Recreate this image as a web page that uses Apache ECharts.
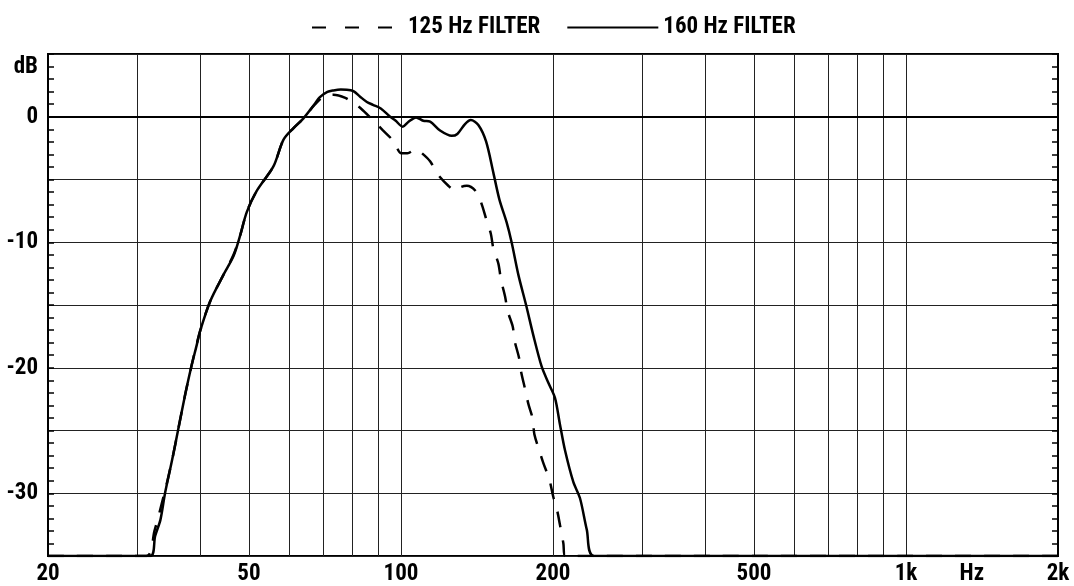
<!DOCTYPE html>
<html>
<head>
<meta charset="utf-8">
<title>Filter response</title>
<script src="https://cdn.jsdelivr.net/npm/echarts@6.0.0/dist/echarts.min.js"></script>
<style>
  html, body { margin: 0; padding: 0; background: #fff; }
  #chart { width: 1074px; height: 586px; }
</style>
</head>
<body>
<div id="chart"></div>
<script>
  // 125 Hz filter (dashed)
  var freq125 = [20, 31.3, 32.5, 34, 35.2, 36.3, 37.4, 38.4, 40, 41.9, 44.5, 46.6, 48, 49.5, 51.8, 55.9, 58.5, 61.2, 64.1,
    67.6, 70.2, 73.5, 77.6, 80.5, 83.3, 87.3, 91.9, 96.8, 100, 103, 107.1, 110, 114.2, 118.3, 124.1, 128.4, 131.4, 135,
    140.4, 144, 147.6, 150.6, 152.4, 155.9, 157.8, 160.7, 162.7, 166.4, 168, 171.3, 172.9, 176.1, 178.8, 182.4, 183.7,
    187.9, 191.4, 196.7, 200.3, 203.9, 206.4, 209.7, 211.3, 2000]
  var db125 = [-35, -35, -33, -30, -27.4, -24.7, -22.1, -20, -17.1, -14.7, -12.6, -11.0, -9.5, -7.6, -5.9, -3.95, -1.84, -0.92, -0.13,
    1.0, 1.6, 1.75, 1.5, 1.1, 0.66, -0.13, -1.05, -1.97, -2.9, -2.9, -2.6, -2.9, -3.55, -4.6, -5.5, -5.9, -5.6, -5.5,
    -5.9, -6.8, -8.2, -9.3, -10.5, -11.7, -13.0, -14.3, -15.5, -16.7, -17.9, -19.2, -20.3, -21.7, -22.9, -24.1, -25.3,
    -26.6, -27.6, -28.9, -30.3, -31.4, -32.5, -34, -35, -35]

  // 160 Hz filter (solid)
  var freq160 = [20, 31.9, 32.6, 33.4, 34.1, 35.2, 36.3, 37.4, 38.4, 39.4, 40, 41.9, 44.5, 46.6, 48, 49.5, 51.8, 55.9, 58.5,
    61.2, 64.1, 67.6, 69, 71.5, 73.5, 76, 78.1, 80.5, 83, 85.6, 88, 91.2, 95.2, 97.5, 100.8, 103.5, 107.1, 110.7, 114.2,
    119.5, 126, 129.3, 133.9, 137.5, 142.3, 147.4, 152.4, 156.6, 161.9, 165.6, 170.8, 176.9, 182.8, 189.9, 195.8, 201.8,
    206.4, 211.3, 219.4, 226.2, 233.3, 241.2, 2000]
  var db160 = [-35, -35, -33.4, -32.1, -30, -27.4, -24.7, -22.1, -20, -18.2, -17.1, -14.7, -12.6, -11.1, -9.5, -7.6, -5.9, -3.95, -1.84,
    -0.92, -0.13, 1.06, 1.55, 1.98, 2.1, 2.17, 2.16, 2.05, 1.6, 1.18, 0.95, 0.66, 0, -0.3, -0.79, -0.4, -0.05, -0.32, -0.39,
    -1.1, -1.52, -1.37, -0.58, -0.26, -0.66, -1.97, -4.47, -6.58, -8.42, -10, -12.6, -15, -17.4, -19.9, -21.2, -22.4,
    -24.5, -26.6, -29.1, -30.4, -32.9, -35, -35]

  var gridFreqs = [30, 40, 50, 60, 70, 80, 90, 100, 200, 300, 400, 500, 600, 700, 800, 900, 1000]
  var labelFreqs = [20, 50, 100, 200, 500, 1000, 1350, 2000]
  var labelTexts = ['20', '50', '100', '200', '500', '1k', 'Hz', '2k']

  var FONT = "'Liberation Sans Narrow', 'Arial Narrow', 'Roboto Condensed', 'DejaVu Sans Condensed', sans-serif"

  function pairs(xs, ys) {
    return xs.map(function (x, i) { return [x, ys[i]] })
  }

  var labelStyle = {
    color: '#000',
    fontFamily: FONT,
    fontWeight: 'bold',
    fontSize: 23
  }

  var chart = echarts.init(document.getElementById('chart'))
  chart.setOption({
    animation: false,
    backgroundColor: '#fff',
    grid: {
      left: 48,
      right: 16,
      top: 54,
      bottom: 27,
      show: true,
      borderColor: '#000',
      borderWidth: 2
    },
    legend: {
      left: 306,
      top: 11,
      itemWidth: 91,
      itemHeight: 14,
      itemGap: 26,
      itemStyle: {opacity: 0},
      textStyle: labelStyle,
      data: [
        {name: '125 Hz FILTER', lineStyle: {type: [14, 19]}},
        {name: '160 Hz FILTER'}
      ]
    },
    xAxis: {
      type: 'log',
      logBase: 10,
      min: 20,
      max: 2000,
      axisLine: {show: true, lineStyle: {color: '#000', width: 2}},
      axisTick: {show: false, customValues: gridFreqs},
      splitLine: {show: true, lineStyle: {color: '#222', width: 1}},
      axisLabel: Object.assign({
        customValues: labelFreqs,
        margin: 7,
        showMinLabel: true,
        showMaxLabel: true,
        formatter: function (v) {
          for (var i = 0; i < labelFreqs.length; i++) {
            if (Math.abs(labelFreqs[i] - v) / labelFreqs[i] < 0.01) return labelTexts[i]
          }
          return ''
        }
      }, labelStyle)
    },
    yAxis: [{
      type: 'value',
      position: 'left',
      min: -35,
      max: 5,
      interval: 5,
      name: 'dB',
      nameLocation: 'end',
      nameGap: -13,
      nameTextStyle: Object.assign({align: 'right', verticalAlign: 'middle', padding: [0, 10, 0, 0]}, labelStyle),
      axisLine: {show: true, lineStyle: {color: '#000', width: 2}},
      axisTick: {show: true, inside: true, length: 6, lineStyle: {color: '#000', width: 1.5}},
      minorTick: {show: true, splitNumber: 5, length: 6, lineStyle: {color: '#000', width: 1.5}},
      splitLine: {show: true, lineStyle: {color: '#222', width: 1}},
      axisLabel: Object.assign({
        margin: 10,
        formatter: function (v) { return v % 10 === 0 ? String(v) : '' }
      }, labelStyle)
    }, {
      type: 'value',
      position: 'right',
      min: -35,
      max: 5,
      interval: 5,
      axisLine: {show: true, lineStyle: {color: '#000', width: 2}},
      axisTick: {show: true, inside: true, length: 6, lineStyle: {color: '#000', width: 1.5}},
      minorTick: {show: true, splitNumber: 5, length: 6, lineStyle: {color: '#000', width: 1.5}},
      splitLine: {show: false},
      axisLabel: {show: false}
    }],
    series: [{
      name: '125 Hz FILTER',
      type: 'line',
      data: pairs(freq125, db125),
      symbol: 'none',
      showSymbol: false,
      smooth: 0.3,
      lineStyle: {color: '#000', width: 2.5, type: [16, 13]},
      itemStyle: {color: '#000'},
      z: 3
    }, {
      name: '160 Hz FILTER',
      type: 'line',
      data: pairs(freq160, db160),
      symbol: 'none',
      showSymbol: false,
      smooth: 0.3,
      lineStyle: {color: '#000', width: 2.5, type: 'solid'},
      itemStyle: {color: '#000'},
      z: 4
    }]
  })
</script>
</body>
</html>
